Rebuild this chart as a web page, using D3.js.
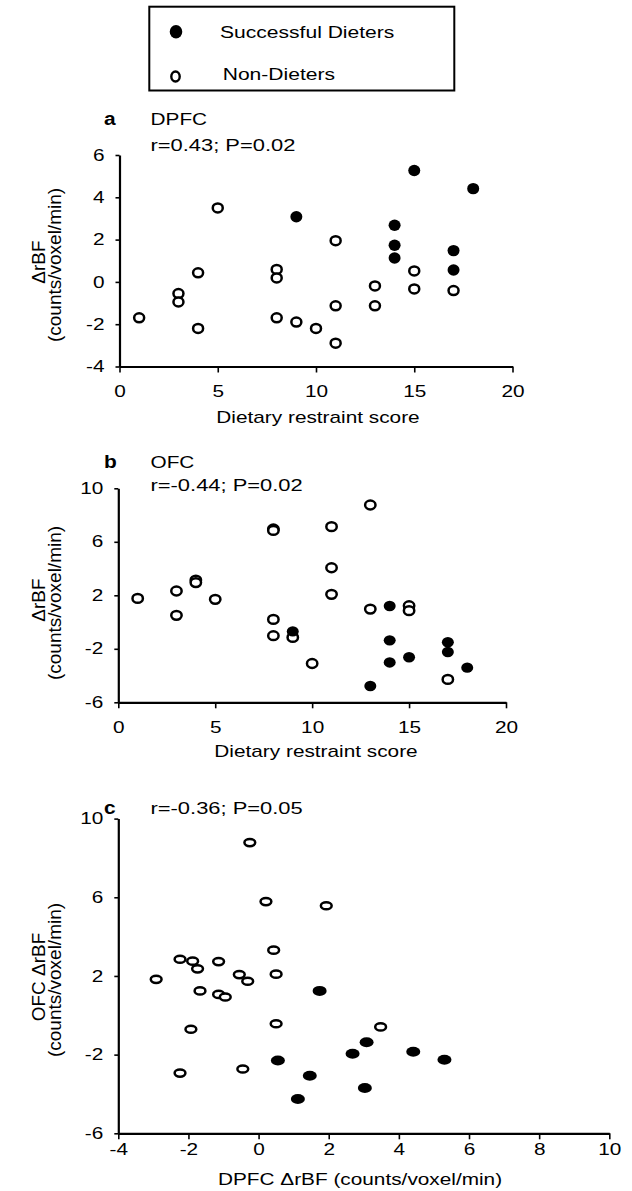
<!DOCTYPE html>
<html>
<head>
<meta charset="utf-8">
<script src="https://cdn.jsdelivr.net/npm/d3@7"></script>
<style>
  body { margin: 0; background: #fff; }
  svg { display: block; }
  text { font-family: "Liberation Sans", Arial, Helvetica, sans-serif; fill: #000; }
</style>
</head>
<body>
<svg id="chart"></svg>
<script>
// panel a: dietary restraint score vs DPFC change
const dpfcSuccessful = [[9, 3.08], [15, 5.27], [18, 4.41], [14, 2.68], [14, 1.73], [14, 1.13], [17, 1.48], [17, 0.56]];
const dpfcNonDieters = [[1, -1.7], [3, -0.55], [3, -0.95], [4, 0.43], [4, -2.2], [5, 3.5], [8, 0.59], [8, 0.19],
    [8, -1.7], [9, -1.9], [10, -2.2], [11, 1.95], [11, -1.13], [11, -2.9], [13, -0.19], [13, -1.13],
    [15, 0.52], [15, -0.33], [17, -0.41]];

// panel b: dietary restraint score vs OFC change
const ofcSuccessful = [[14, 1.2], [9, -0.7], [14, -1.37], [14, -3.02], [15, -2.63], [13, -4.78], [17, -1.51], [17, -2.24], [18, -3.41]];
const ofcNonDieters = [[1, 1.77], [3, 2.32], [3, 0.5], [4, 3.14], [4, 2.95], [5, 1.7], [8, 6.96], [8, 6.85],
    [8, 0.2], [8, -1.02], [9, -1.15], [10, -3.1], [11, 7.13], [11, 4.06], [11, 2.07], [13, 8.75],
    [13, 0.97], [15, 1.22], [15, 0.85], [17, -4.29]];

// panel c: DPFC change vs OFC change
const pairSuccessful = [[1.74, 1.24], [3.08, -1.37], [2.68, -1.96], [4.41, -1.85], [5.3, -2.26], [0.55, -2.3], [1.46, -3.07], [3.03, -3.7], [1.12, -4.26]];
const pairNonDieters = [[-2.92, 1.83], [-2.24, 2.85], [-1.88, 2.75], [-1.74, 2.36], [-1.67, 1.24], [-1.14, 2.73],
    [-1.14, 1.06], [-0.95, 0.93], [-0.55, 2.07], [-0.31, 1.73], [-1.93, -0.71], [-2.24, -2.94],
    [-0.45, -2.73], [0.43, 3.31], [0.5, 2.09], [0.5, -0.43], [0.21, 5.78], [1.93, 5.57], [3.48, -0.59], [-0.25, 8.78]];

const ticksScore = [0, 5, 10, 15, 20];
const ticksDpfc = [-4, -2, 0, 2, 4, 6];
const ticksOfc = [-6, -2, 2, 6, 10];
const ticksDpfcWide = [-4, -2, 0, 2, 4, 6, 8, 10];

const legendLabels = ["Successful Dieters", "Non-Dieters"];

const width = 632, height = 1191;
const sx = 1.3; // the original's type is stretched sideways

const svg = d3.select("#chart").attr("width", width).attr("height", height);

function flatText(x, y, str, size, opts = {}) {
    return svg.append("text")
        .attr("transform", `translate(${x},${y}) scale(${opts.scale || sx},1)`)
        .attr("text-anchor", opts.anchor || "start")
        .style("font-size", size + "px")
        .style("font-weight", opts.bold ? "bold" : "normal")
        .text(str);
}

function sideText(x, y, str) {
    svg.append("text")
        .attr("transform", `translate(${x},${y}) rotate(-90)`)
        .attr("text-anchor", "middle")
        .style("font-size", "19px")
        .text(str);
}

const panels = [
    {
        letter: "a", letterY: 125,
        xDomain: [0, 20], xRange: [119.5, 512.5], xTicks: ticksScore,
        yDomain: [-4, 6], yRange: [366.5, 155], yTicks: ticksDpfc,
        successful: dpfcSuccessful, nonDieters: dpfcNonDieters,
        title: "DPFC", titleY: 125, stat: "r=0.43; P=0.02", statY: 151,
        xLabel: "Dietary restraint score", xLabelX: 318, xLabelY: 422.5, xPad: 13,
        yLabel: "ΔrBF", yMid: 262,
        openR: [5, 4.5], fillR: [6, 5.7]
    },
    {
        letter: "b", letterY: 468,
        xDomain: [0, 20], xRange: [118.3, 506], xTicks: ticksScore,
        yDomain: [-6, 10], yRange: [702.3, 488.3], yTicks: ticksOfc,
        successful: ofcSuccessful, nonDieters: ofcNonDieters,
        title: "OFC", titleY: 468, stat: "r=-0.44; P=0.02", statY: 490.5,
        xLabel: "Dietary restraint score", xLabelX: 316, xLabelY: 756.5, xPad: 13,
        yLabel: "ΔrBF", yMid: 600,
        openR: [5.2, 4.4], fillR: [6, 5.2]
    },
    {
        letter: "c", letterY: 814,
        xDomain: [-4, 10], xRange: [118.3, 609.3], xTicks: ticksDpfcWide,
        yDomain: [-6, 10], yRange: [1133.3, 818.6], yTicks: ticksOfc,
        successful: pairSuccessful, nonDieters: pairNonDieters,
        title: null, stat: "r=-0.36; P=0.05", statY: 814,
        xLabel: "DPFC ΔrBF (counts/voxel/min)", xLabelX: 360, xLabelY: 1185, xPad: 4.5,
        yLabel: "OFC ΔrBF", yMid: 977,
        openR: [5.4, 3.6], fillR: [7, 5]
    }
];

panels.forEach(p => {
    const x = d3.scaleLinear().domain(p.xDomain).range(p.xRange);
    const y = d3.scaleLinear().domain(p.yDomain).range(p.yRange);
    const plain = d => String(d); // hyphen minus, as in the original

    const xAxis = svg.append("g")
        .attr("transform", `translate(0,${p.yRange[0]})`)
        .call(d3.axisBottom(x).tickValues(p.xTicks).tickFormat(plain)
            .tickSize(6).tickSizeOuter(0).tickPadding(p.xPad));
    const yAxis = svg.append("g")
        .attr("transform", `translate(${p.xRange[0]},0)`)
        .call(d3.axisLeft(y).tickValues(p.yTicks).tickFormat(plain)
            .tickSize(4).tickSizeOuter(0));

    [xAxis, yAxis].forEach(a => {
        a.attr("font-size", null).attr("font-family", null);
        a.select(".domain").attr("stroke", "#000").attr("stroke-width", 2.2);
        a.selectAll(".tick line").attr("stroke", "#000").attr("stroke-width", 1.6);
        a.selectAll(".tick text").style("font-size", "16px").attr("fill", "#000");
    });
    xAxis.selectAll(".tick text").attr("transform", `scale(${sx},1)`);
    yAxis.selectAll(".tick text").attr("x", -15 / sx).attr("transform", `scale(${sx},1)`);

    // points
    const plot = svg.append("g");
    plot.selectAll("ellipse.open")
        .data(p.nonDieters)
        .join("ellipse")
        .attr("class", "open")
        .attr("cx", d => x(d[0]))
        .attr("cy", d => y(d[1]))
        .attr("rx", p.openR[0])
        .attr("ry", p.openR[1])
        .attr("fill", "#fff")
        .attr("stroke", "#000")
        .attr("stroke-width", 2.5);
    plot.selectAll("ellipse.filled")
        .data(p.successful)
        .join("ellipse")
        .attr("class", "filled")
        .attr("cx", d => x(d[0]))
        .attr("cy", d => y(d[1]))
        .attr("rx", p.fillR[0])
        .attr("ry", p.fillR[1])
        .attr("fill", "#000");

    // texts
    flatText(104, p.letterY, p.letter, 19, {bold: true, scale: 1.1});
    if (p.title) flatText(150.5, p.titleY, p.title, 16);
    flatText(150.5, p.statY, p.stat, 16, {scale: 1.37});
    flatText(p.xLabelX, p.xLabelY, p.xLabel, 16, {anchor: "middle"});
    sideText(45, p.yMid, p.yLabel);
    sideText(61, p.yMid + 3, "(counts/voxel/min)");
});

// legend
const legend = svg.append("g");
legend.append("rect")
    .attr("x", 149.3).attr("y", 6.7)
    .attr("width", 305).attr("height", 83.8)
    .attr("fill", "none").attr("stroke", "#000").attr("stroke-width", 2);
legend.append("ellipse")
    .attr("cx", 176).attr("cy", 31.7).attr("rx", 6.3).attr("ry", 6.8)
    .attr("fill", "#000");
legend.append("ellipse")
    .attr("cx", 175.5).attr("cy", 76.5).attr("rx", 4.2).attr("ry", 5)
    .attr("fill", "#fff").attr("stroke", "#000").attr("stroke-width", 2.4);
flatText(220, 37.5, legendLabels[0], 17, {scale: 1.24});
flatText(222.7, 80, legendLabels[1], 17, {scale: 1.24});
</script>
</body>
</html>
